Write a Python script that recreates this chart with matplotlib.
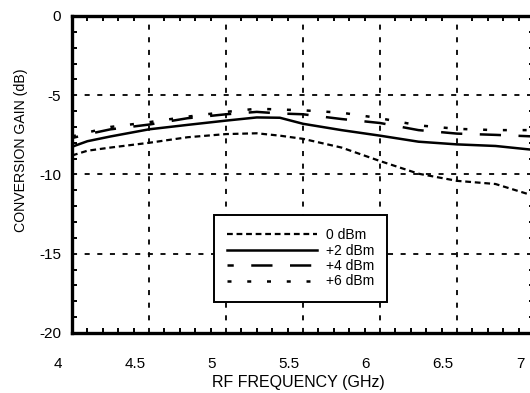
import matplotlib
matplotlib.use("Agg")
import matplotlib.pyplot as plt
import matplotlib.transforms as mtransforms
from matplotlib.ticker import MultipleLocator

plt.rcParams["font.family"] = ["Liberation Sans", "DejaVu Sans"]

# RF frequency (GHz)
freq = [4.0, 4.1, 4.25, 4.5, 4.75, 5.0, 5.2, 5.35, 5.5, 5.75, 6.0, 6.25, 6.5, 6.75, 7.0]

# conversion gain (dB) per LO drive level
gain_0dbm = [-8.8, -8.5, -8.3, -8.0, -7.65, -7.45, -7.4, -7.55, -7.75, -8.3, -9.15, -9.95, -10.4, -10.6, -11.35]
gain_2dbm = [-8.25, -7.9, -7.6, -7.15, -6.87, -6.6, -6.4, -6.42, -6.8, -7.2, -7.55, -7.93, -8.1, -8.2, -8.45]
gain_4dbm = [-7.7, -7.46, -7.15, -6.85, -6.45, -6.2, -6.05, -6.15, -6.2, -6.5, -6.75, -7.2, -7.42, -7.5, -7.6]
gain_6dbm = [-7.6, -7.35, -7.0, -6.7, -6.35, -6.05, -5.85, -5.9, -5.95, -6.1, -6.45, -6.9, -7.12, -7.2, -7.2]

labels = ["0 dBm", "+2 dBm", "+4 dBm", "+6 dBm"]

fig = plt.figure(figsize=(5.30, 3.93), dpi=100)
ax = fig.add_axes([72 / 530, 60 / 393, 462 / 530, 317 / 393])

ax.plot(freq, gain_0dbm, color="black", lw=1.6, linestyle=(0, (2.6, 1.7)), label=labels[0])
ax.plot(freq, gain_2dbm, color="black", lw=1.8, linestyle="-", label=labels[1])
ax.plot(freq, gain_4dbm, color="black", lw=1.8, linestyle=(6, (8.5, 7.0)), label=labels[2])
ax.plot(freq, gain_6dbm, color="black", lw=1.8, linestyle=(0, (1.6, 6.3)), label=labels[3])

ax.set_xlim(4, 7)
ax.set_ylim(-20, 0)
ax.xaxis.set_minor_locator(MultipleLocator(0.1))
ax.yaxis.set_minor_locator(MultipleLocator(1))
ax.set_xticks([4, 4.5, 5, 5.5, 6, 6.5, 7])
ax.set_xticklabels(["4", "4.5", "5", "5.5", "6", "6.5", "7"])
ax.set_yticks([0, -5, -10, -15, -20])
ax.set_yticklabels(["0", "-5", "-10", "-15", "-20"])

ax.tick_params(which="major", length=0, labelsize=11, pad=8)
ax.tick_params(axis="x", which="major", pad=17)
ax.tick_params(which="minor", direction="in", length=3.5, width=1.4,
               top=True, right=True, bottom=True, left=True)

# x tick labels sit a little left of their grid lines in the original
offset = mtransforms.ScaledTranslation(-14 / 100, 0, fig.dpi_scale_trans)
for lbl in ax.get_xticklabels():
    lbl.set_transform(lbl.get_transform() + offset)

ax.grid(True, which="major", color="black", lw=1.3, linestyle=(0, (2.8, 4.2)))

for side in ["left", "bottom", "top", "right"]:
    ax.spines[side].set_linewidth(2.4)

ax.set_xlabel("RF FREQUENCY (GHz)", fontsize=11.5)
ax.xaxis.set_label_coords(0.49, -0.132)
ax.set_ylabel("CONVERSION GAIN (dB)", fontsize=10.2)
ax.yaxis.set_label_coords(-0.095, 0.575)

leg = ax.legend(loc="upper left", bbox_to_anchor=(0.307, 0.372), fontsize=10,
                frameon=True, fancybox=False, edgecolor="black", framealpha=1,
                handlelength=6.5, handletextpad=0.6, labelspacing=0.1,
                borderpad=0.95, borderaxespad=0)
leg.get_frame().set_linewidth(1.4)

fig.savefig("out.png", dpi=100)
